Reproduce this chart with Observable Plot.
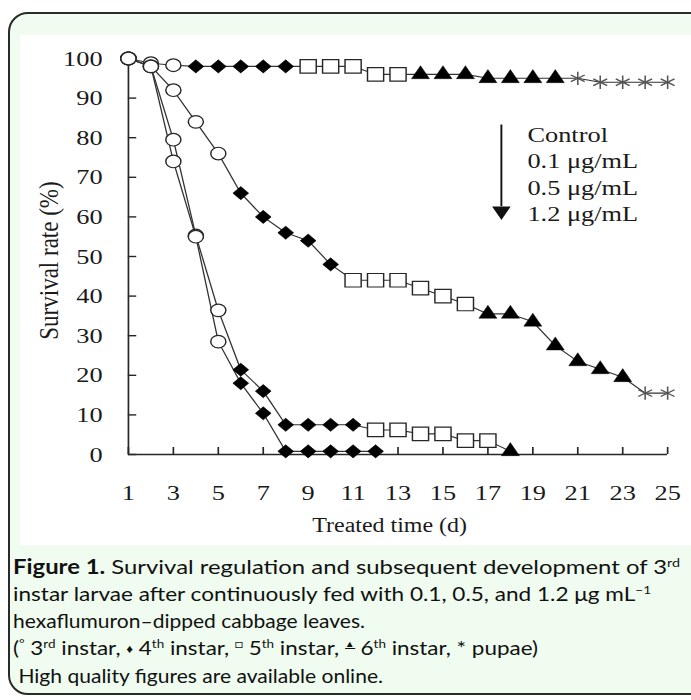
<!DOCTYPE html>
<html><head><meta charset="utf-8">
<script src="https://cdn.jsdelivr.net/npm/d3@7"></script>
<script src="https://cdn.jsdelivr.net/npm/@observablehq/plot@0.6"></script>
<style>
html,body{margin:0;padding:0;width:691px;height:700px;overflow:hidden;background:#fff;}
#frame{position:absolute;left:8px;top:12px;width:720px;height:683px;border:2px solid #2a2a2a;border-radius:20px;background:#effcef;box-sizing:border-box;}
#chart{position:absolute;left:20px;top:35px;width:671px;height:510px;overflow:hidden;}
#caption{position:absolute;left:13px;top:553px;width:690px;white-space:nowrap;font-family:Lato,"Open Sans",sans-serif;font-size:20px;line-height:27px;color:#111;}
#caption .ln{display:inline-block;transform-origin:0 50%;}
#caption sup{font-size:0.6em;vertical-align:0.55em;line-height:0;}
#caption .tri{display:inline-block;font-size:0.45em;line-height:1;vertical-align:0.9em;border-bottom:1.5px solid #111;}
#caption .dia{font-size:0.6em;vertical-align:0.15em;}
</style></head><body>
<div id="frame"></div>
<div id="chart"></div>
<div id="caption"><span class="ln"><b>Figure 1.</b> Survival regulation and subsequent development of 3<sup>rd</sup></span><br><span class="ln">instar larvae after continuously fed with 0.1, 0.5, and 1.2 μg mL<sup>−1</sup></span><br><span class="ln">hexaflumuron–dipped cabbage leaves.</span><br><span class="ln">(<sup>°</sup> 3<sup>rd</sup> instar, <span class="dia">♦</span> 4<sup>th</sup> instar, <sup>□</sup> 5<sup>th</sup> instar, <span class="tri">▲</span> 6<sup>th</sup> instar, * pupae)</span><br><span class="ln">&nbsp;High quality figures are available online.</span></div>
<script>
// ---- data ----
const days = [1,2,3,4,5,6,7,8,9,10,11,12,13,14,15,16,17,18,19,20,21,22,23,24,25];
const seriesNames = ["Control","0.1 μg/mL","0.5 μg/mL","1.2 μg/mL"];
// stage codes: c = 3rd instar (circle), d = 4th instar (diamond), s = 5th instar (square), t = 6th instar (triangle), p = pupae (asterisk)
const controlValues = [100,98.8,98.3,98,98,98,98,98,98,98,98,96,96,96,96,96,95,95,95,95,95,94,94,94,94];
const controlStages = ["c","c","c","d","d","d","d","d","s","s","s","s","s","t","t","t","t","t","t","t","p","p","p","p","p"];
const low01Values = [100,98,92,84,76,66,60,56,54,48,44,44,44,42,40,38,35.5,35.5,33.5,27.5,23.5,21.5,19.5,15.5,15.5];
const low01Stages = ["c","c","c","c","c","d","d","d","d","d","s","s","s","s","s","s","t","t","t","t","t","t","t","p","p"];
const mid05Values = [100,98,79.5,55.3,36.4,21.4,16,7.5,7.5,7.5,7.5,6.2,6.2,5.2,5.2,3.5,3.5,0.8];
const mid05Stages = ["c","c","c","c","c","d","d","d","d","d","d","s","s","s","s","s","s","t"];
const high12Values = [100,98,74,55,28.5,18,10.4,0.8,0.8,0.8,0.8,0.8];
const high12Stages = ["c","c","c","c","c","d","d","d","d","d","d","d"];
const xTicks = [1,3,5,7,9,11,13,15,17,19,21,23,25];
const yTicks = [0,10,20,30,40,50,60,70,80,90,100];
const legendLabels = ["Control","0.1 μg/mL","0.5 μg/mL","1.2 μg/mL"];
const legendArrowX = 17.6, legendArrowTop = 83.2, legendArrowBottom = 62.6, legendArrowHead = 61.5;
const legendTextX = 18.76, legendTextY = 71.1;
const xTitle = "Treated time (d)";
const yTitle = "Survival rate (%)";

// ---- build table ----
const rows = [];
function addSeries(name, vals, stages){ vals.forEach((v,i)=>rows.push({series:name, day:days[i], v, stage:stages[i]})); }
addSeries(seriesNames[0], controlValues, controlStages);
addSeries(seriesNames[1], low01Values, low01Stages);
addSeries(seriesNames[2], mid05Values, mid05Stages);
addSeries(seriesNames[3], high12Values, high12Stages);

const W = 560, H = 510, ML = 90, MR = 20, MT = 23, MB = 91;
const FW = W - ML - MR, FH = H - MT - MB;
const ink = "#262626";
const symStyle = {
  c:{symbol:"circle", r:6.3, fill:"white", stroke:ink, strokeWidth:1.2},
  d:{symbol:"diamond2", r:5.9, fill:"#000", stroke:"#000", strokeWidth:0.6},
  s:{symbol:"square", r:7.6, fill:"white", stroke:ink, strokeWidth:1.2},
  t:{symbol:"triangle", r:5.6, fill:"#000", stroke:"#000", strokeWidth:0.4},
  p:{symbol:"asterisk", r:6.3, fill:"none", stroke:"#555", strokeWidth:1.3}
};

const chart = Plot.plot({
  width:W, height:H, marginLeft:ML, marginRight:MR, marginTop:MT, marginBottom:MB,
  style:{fontFamily:"'Liberation Serif', 'Times New Roman', serif", fontSize:"22px", color:"#1a1a1a", background:"white"},
  x:{domain:[1,25]},
  y:{domain:[0,100]},
  marks:[
    Plot.ruleX([1], {stroke:ink, strokeWidth:1.4}),
    Plot.ruleY([0], {stroke:ink, strokeWidth:1.6}),
    Plot.ruleY(yTicks, {stroke:ink, strokeWidth:1.4, insetRight:FW-7}),
    Plot.ruleX(xTicks, {stroke:ink, strokeWidth:1.4, insetTop:FH-7}),
    Plot.axisY(yTicks, {tickSize:0, tickPadding:21.6, label:null, fontSize:22}),
    Plot.axisX(xTicks, {tickSize:0, tickPadding:30, label:null, fontSize:22}),
    Plot.line(rows, {x:"day", y:"v", z:"series", stroke:"#333", strokeWidth:1.1}),
    ...["c","d","s","t","p"].map(k => Plot.dot(rows.filter(r=>r.stage===k), {x:"day", y:"v", ...symStyle[k]})),
    Plot.text([yTitle], {text:d=>d, frameAnchor:"left", textAnchor:"middle", dx:-66, dy:4, rotate:-90, fontSize:23, lineAnchor:"middle"}),
    Plot.text([xTitle], {text:d=>d, frameAnchor:"bottom", dx:-7, dy:71, fontSize:20, lineAnchor:"middle"}),
    Plot.text([legendLabels.join("\n")], {text:d=>d, x:legendTextX, y:legendTextY, textAnchor:"start", lineAnchor:"middle", lineHeight:1.21, fontSize:22}),
    Plot.ruleX([legendArrowX], {y1:legendArrowTop, y2:legendArrowBottom, stroke:"#111", strokeWidth:1.6}),
    Plot.dot([legendArrowX], {x:d=>d, y:legendArrowHead, symbol:"triangle", rotate:180, r:4.8, fill:"#111", stroke:"#111"})
  ]
});
chart.setAttribute("preserveAspectRatio","none");
chart.setAttribute("width", 671);
chart.setAttribute("height", 510);
chart.style.width = "671px";
chart.style.height = "510px";
chart.style.maxWidth = "none";
document.getElementById("chart").appendChild(chart);

// caption lines stretched to the widths seen in the figure
const captionWidths = [667, 638, 352, 525, 370];
document.querySelectorAll("#caption .ln").forEach((el,i)=>{
  const w = el.getBoundingClientRect().width;
  el.style.transform = `scaleX(${captionWidths[i]/w})`;
});
</script>
</body></html>
